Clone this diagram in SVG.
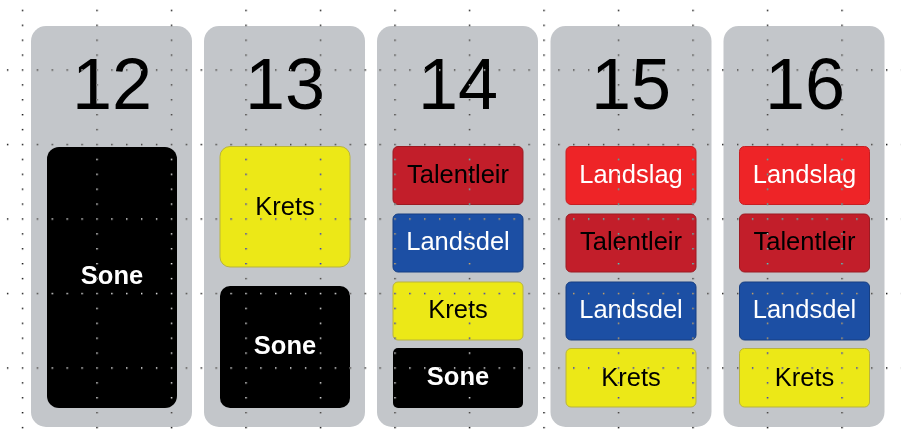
<svg xmlns="http://www.w3.org/2000/svg" width="901" height="441" viewBox="0 0 901 441">
<style>
.panel{fill:#c3c6ca}
.num{font-family:"Liberation Sans",Arial,sans-serif;font-size:72px;fill:#000;text-anchor:middle}
.lbl{font-family:"Liberation Sans",Arial,sans-serif;font-size:25.5px;text-anchor:middle}
.bold{font-weight:bold}
.w{fill:#fff}
.k{fill:#000}
.black{fill:#000}
.yellow{fill:#ece817;stroke:#b9b43c;stroke-width:1}
.dred{fill:#c21e2a;stroke:#9c1a22;stroke-width:1}
.bred{fill:#ee2427;stroke:#c81e22;stroke-width:1}
.blue{fill:#1c4fa4;stroke:#173f82;stroke-width:1}
</style>
<defs>
<pattern id="grid" patternUnits="userSpaceOnUse" x="21.8" y="-5.2" width="74.5" height="74.5">
<rect x="0" y="0" width="1.4" height="1.4" fill="#fff"/>
<rect x="0" y="14.9" width="1.4" height="1.4" fill="#fff"/>
<rect x="0" y="29.8" width="1.4" height="1.4" fill="#fff"/>
<rect x="0" y="44.7" width="1.4" height="1.4" fill="#fff"/>
<rect x="0" y="59.6" width="1.4" height="1.4" fill="#fff"/>
<rect x="14.9" y="0" width="1.4" height="1.4" fill="#fff"/>
<rect x="29.8" y="0" width="1.4" height="1.4" fill="#fff"/>
<rect x="44.7" y="0" width="1.4" height="1.4" fill="#fff"/>
<rect x="59.6" y="0" width="1.4" height="1.4" fill="#fff"/>
</pattern>
</defs>
<rect x="0" y="0" width="901" height="441" fill="#fff"/>

<g id="col12">
<rect class="panel" x="31" y="26" width="161" height="401" rx="15"/>
<text class="num" x="112" y="109">12</text>
<g id="c12-sone"><rect class="black" x="47" y="147" width="130" height="261" rx="12"/><text class="lbl bold w" x="112" y="283.5">Sone</text></g>
</g>

<g id="col13">
<rect class="panel" x="204" y="26" width="161" height="401" rx="15"/>
<text class="num" x="285" y="109">13</text>
<g id="c13-krets"><rect class="yellow" x="220" y="146.5" width="130" height="120.5" rx="10"/><text class="lbl k" x="285" y="215">Krets</text></g>
<g id="c13-sone"><rect class="black" x="220" y="286" width="130" height="122" rx="10"/><text class="lbl bold w" x="285" y="354">Sone</text></g>
</g>

<g id="col14">
<rect class="panel" x="377" y="26" width="161" height="401" rx="15"/>
<text class="num" x="458" y="109">14</text>
<g id="c14-talentleir"><rect class="dred" x="393" y="146.5" width="130" height="58" rx="5"/><text class="lbl k" x="458" y="182.5">Talentleir</text></g>
<g id="c14-landsdel"><rect class="blue" x="393" y="214" width="130" height="58" rx="5"/><text class="lbl w" x="458" y="249.5">Landsdel</text></g>
<g id="c14-krets"><rect class="yellow" x="393" y="282" width="130" height="58" rx="5"/><text class="lbl k" x="458" y="317.5">Krets</text></g>
<g id="c14-sone"><rect class="black" x="393" y="348" width="130" height="60" rx="5"/><text class="lbl bold w" x="458" y="385">Sone</text></g>
</g>

<g id="col15">
<rect class="panel" x="550.5" y="26" width="161" height="401" rx="15"/>
<text class="num" x="631" y="109">15</text>
<g id="c15-landslag"><rect class="bred" x="566" y="146.5" width="130" height="58" rx="5"/><text class="lbl w" x="631" y="182.5">Landslag</text></g>
<g id="c15-talentleir"><rect class="dred" x="566" y="214" width="130" height="58" rx="5"/><text class="lbl k" x="631" y="250">Talentleir</text></g>
<g id="c15-landsdel"><rect class="blue" x="566" y="282" width="130" height="58" rx="5"/><text class="lbl w" x="631" y="317.5">Landsdel</text></g>
<g id="c15-krets"><rect class="yellow" x="566" y="348.5" width="130" height="58.5" rx="5"/><text class="lbl k" x="631" y="386">Krets</text></g>
</g>

<g id="col16">
<rect class="panel" x="723.5" y="26" width="161" height="401" rx="15"/>
<text class="num" x="805" y="109">16</text>
<g id="c16-landslag"><rect class="bred" x="739.5" y="146.5" width="130" height="58" rx="5"/><text class="lbl w" x="804.5" y="182.5">Landslag</text></g>
<g id="c16-talentleir"><rect class="dred" x="739.5" y="214" width="130" height="58" rx="5"/><text class="lbl k" x="804.5" y="250">Talentleir</text></g>
<g id="c16-landsdel"><rect class="blue" x="739.5" y="282" width="130" height="58" rx="5"/><text class="lbl w" x="804.5" y="317.5">Landsdel</text></g>
<g id="c16-krets"><rect class="yellow" x="739.5" y="348.5" width="130" height="58.5" rx="5"/><text class="lbl k" x="804.5" y="386">Krets</text></g>
</g>

<g id="connectors"></g>

<rect id="dotgrid" x="0" y="0" width="901" height="441" fill="url(#grid)" style="mix-blend-mode:difference"/>
</svg>
